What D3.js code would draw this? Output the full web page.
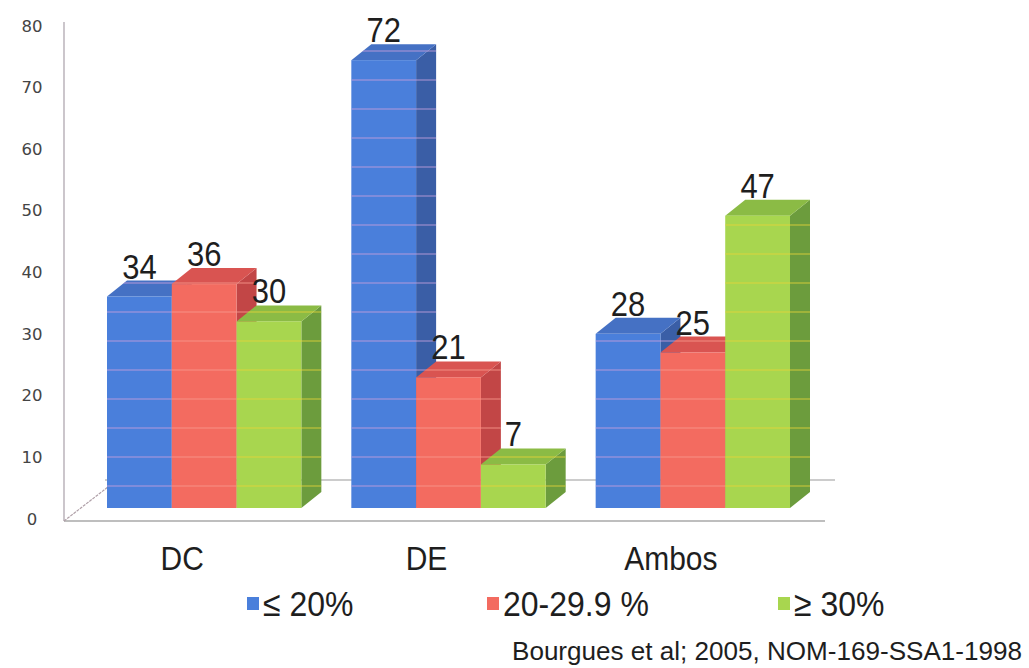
<!DOCTYPE html>
<html>
<head>
<meta charset="utf-8">
<script src="https://cdn.jsdelivr.net/npm/d3@7"></script>
<style>
  html, body { margin: 0; padding: 0; background: #fff; }
  svg { display: block; }
</style>
</head>
<body>
<svg id="chart" width="1029" height="668"></svg>
<script>
// ---- data ----
const categories = ["DC", "DE", "Ambos"];
const seriesNames = ["≤ 20%", "20-29.9 %", "≥ 30%"];
const seriesLow = [34, 72, 28];
const seriesMid = [36, 21, 25];
const seriesHigh = [30, 7, 47];
const yTickValues = [0, 10, 20, 30, 40, 50, 60, 70, 80];
const sourceNote = "Bourgues et al; 2005, NOM-169-SSA1-1998";

// ---- styles ----
const palette = [
  { front: "#4a7fdb", top: "#4571c4", side: "#3a5ea6", stripe: "#c7a0dc" },
  { front: "#f36b60", top: "#d95451", side: "#c24646", stripe: "#f79a8e" },
  { front: "#a8d64f", top: "#8bbb45", side: "#6c9c3d", stripe: "#e6d43a" }
];
const allSeries = [seriesLow, seriesMid, seriesHigh];

const svg = d3.select("#chart");
const DX = 20, DY = 16;           // 3-D depth offset of bars
const FDX = 53, FDY = 41;         // depth of floor

const x0 = d3.scaleBand().domain(categories).range([107, 790]).paddingInner(0.2046).paddingOuter(0);
const x1 = d3.scaleBand().domain(d3.range(seriesNames.length)).range([0, x0.bandwidth()]).padding(0);
const yBar = d3.scaleLinear().domain([0, 80]).range([508, 10.4]);
const yAxis = d3.scaleLinear().domain([0, 80]).range([519, 26]);
const yGrid = d3.scaleLinear().domain([0, 80]).range([515, 51]);

const axisLeft = 64, floorY = 521;

// ---- floor / axis lines ----
const g = svg.append("g");
g.append("line").attr("x1", axisLeft).attr("x2", axisLeft).attr("y1", 22).attr("y2", floorY)
  .attr("stroke", "#b0a8b0").attr("stroke-width", 1.3);
g.append("line").attr("x1", axisLeft).attr("x2", 825).attr("y1", floorY).attr("y2", floorY)
  .attr("stroke", "#a8a8a8").attr("stroke-width", 1.3);
g.append("line").attr("x1", axisLeft).attr("y1", floorY).attr("x2", axisLeft + FDX).attr("y2", floorY - FDY)
  .attr("stroke", "#b0a0a8").attr("stroke-width", 1.2).attr("stroke-dasharray", "3,1");
g.append("line").attr("x1", axisLeft + FDX - 12).attr("x2", 835).attr("y1", floorY - FDY).attr("y2", floorY - FDY)
  .attr("stroke", "#999").attr("stroke-width", 1.1);

// ---- y tick labels ----
svg.append("g").selectAll("text").data(yTickValues).join("text")
  .attr("x", 32).attr("y", d => yAxis(d))
  .attr("text-anchor", "middle").attr("dominant-baseline", "central")
  .attr("font-family", "DejaVu Sans, Verdana, sans-serif").attr("font-size", 16.5)
  .attr("fill", "#444").text(d => d);

// ---- bars ----
const gridVals = d3.range(0, 81, 5);
const defs = svg.append("defs");
const barsG = svg.append("g");
categories.forEach((cat, ci) => {
  allSeries.forEach((ser, si) => {
    const v = ser[ci];
    const xl = x0(cat) + x1(si);
    const xr = xl + x1.bandwidth();
    const yt = yBar(v), yb = yBar(0);
    const c = palette[si];
    const bar = barsG.append("g");
    // side
    bar.append("path")
      .attr("d", `M${xr},${yb}L${xr},${yt}L${xr + DX},${yt - DY}L${xr + DX},${yb - DY}Z`)
      .attr("fill", c.side);
    // top
    bar.append("path")
      .attr("d", `M${xl},${yt}L${xl + DX},${yt - DY}L${xr + DX},${yt - DY}L${xr},${yt}Z`)
      .attr("fill", c.top);
    // front
    bar.append("rect").attr("x", xl).attr("y", yt).attr("width", xr - xl).attr("height", yb - yt)
      .attr("fill", c.front);
    // gridline stripes seen through the bar
    const id = `clip-${ci}-${si}`;
    defs.append("clipPath").attr("id", id).append("path")
      .attr("d", `M${xl},${yb}L${xl},${yt}L${xl + DX},${yt - DY}L${xr + DX},${yt - DY}L${xr + DX},${yb - DY}L${xr},${yb}Z`);
    bar.append("g").attr("clip-path", `url(#${id})`).selectAll("line").data(gridVals).join("line")
      .attr("x1", xl).attr("x2", xr + DX)
      .attr("y1", d => yGrid(d)).attr("y2", d => yGrid(d))
      .attr("stroke", c.stripe).attr("stroke-width", 1.2).attr("opacity", 0.85);
    // value label
    svg.append("text")
      .attr("transform", `translate(${(xl + xr) / 2},${yt - DY - 2}) scale(1,1.12)`)
      .attr("text-anchor", "middle")
      .attr("font-family", "Liberation Sans, Arial, sans-serif").attr("font-size", 31)
      .attr("fill", "#1e1e1e").text(v);
  });
});

// ---- category labels ----
svg.append("g").selectAll("text").data(categories).join("text")
  .attr("transform", d => `translate(${x0(d) + x0.bandwidth() / 2 - 22},570) scale(1,1.12)`)
  .attr("text-anchor", "middle")
  .attr("font-family", "Liberation Sans, Arial, sans-serif").attr("font-size", 30)
  .attr("fill", "#1e1e1e").text(d => d);

// ---- legend ----
const legendX = [247, 487, 778];
const lg = svg.append("g");
seriesNames.forEach((name, i) => {
  lg.append("rect").attr("x", legendX[i]).attr("y", 597).attr("width", 12).attr("height", 13)
    .attr("fill", palette[i].front);
  lg.append("text")
    .attr("transform", `translate(${legendX[i] + 16},616) scale(1,1.1)`)
    .attr("font-family", "Liberation Sans, Arial, sans-serif").attr("font-size", 32)
    .attr("fill", "#1e1e1e").text(name);
});

// ---- source note ----
svg.append("text").attr("x", 512).attr("y", 660)
  .attr("font-family", "Liberation Sans, Arial, sans-serif").attr("font-size", 25)
  .attr("textLength", 510).attr("lengthAdjust", "spacingAndGlyphs")
  .attr("fill", "#1e1e1e").text(sourceNote);
</script>
</body>
</html>
